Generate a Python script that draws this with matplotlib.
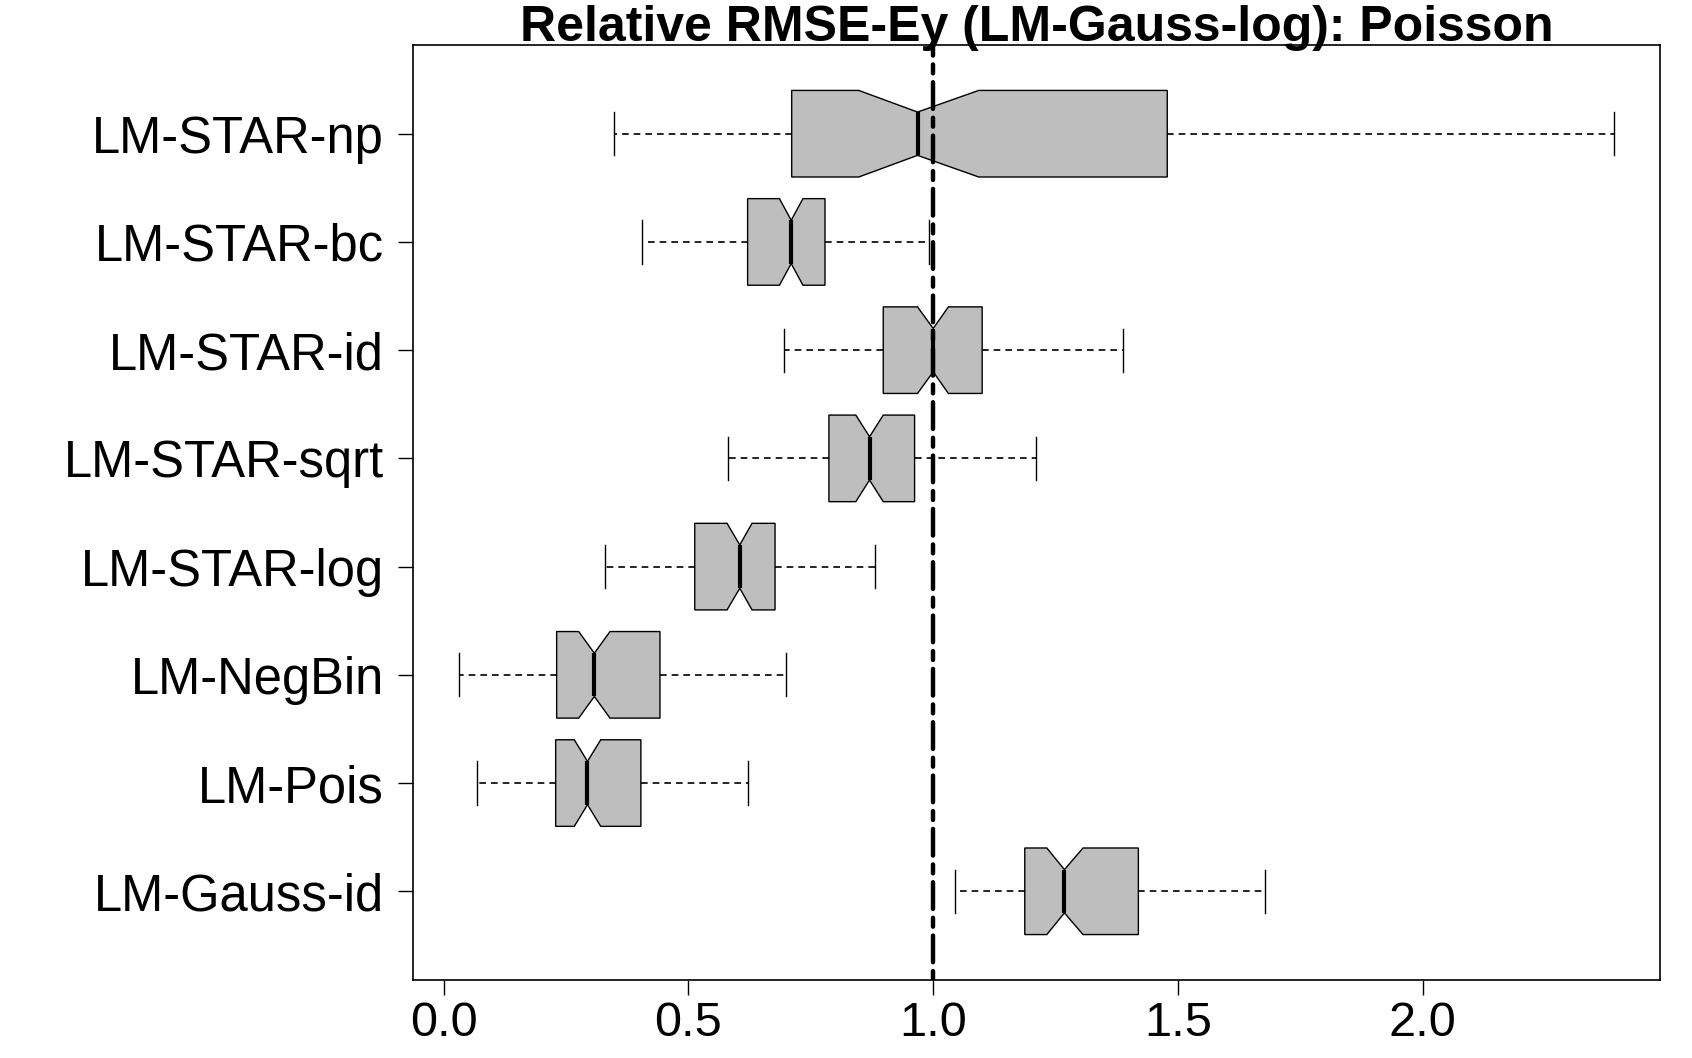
import matplotlib
matplotlib.use('Agg')
import matplotlib.pyplot as plt

plt.rcParams['font.family'] = ['Liberation Sans', 'DejaVu Sans']

# boxplot summaries (bottom to top)
models = ['LM-Gauss-id', 'LM-Pois', 'LM-NegBin', 'LM-STAR-log',
          'LM-STAR-sqrt', 'LM-STAR-id', 'LM-STAR-bc', 'LM-STAR-np']
whislo = [1.044, 0.068, 0.032, 0.330, 0.581, 0.696, 0.406, 0.348]
q1     = [1.187, 0.229, 0.231, 0.513, 0.787, 0.898, 0.621, 0.711]
cilo   = [1.232, 0.267, 0.276, 0.579, 0.842, 0.968, 0.686, 0.848]
med    = [1.268, 0.294, 0.308, 0.605, 0.870, 1.000, 0.710, 0.968]
cihi   = [1.306, 0.321, 0.340, 0.630, 0.898, 1.031, 0.734, 1.093]
q3     = [1.419, 0.403, 0.442, 0.677, 0.962, 1.100, 0.779, 1.478]
whishi = [1.677, 0.621, 0.699, 0.882, 1.209, 1.388, 0.992, 2.390]
ref_value = 1.0
title = 'Relative RMSE-Ey (LM-Gauss-log): Poisson'


stats = []
for i, name in enumerate(models):
    stats.append(dict(label=name, whislo=whislo[i], q1=q1[i], cilo=cilo[i],
                      med=med[i], cihi=cihi[i], q3=q3[i], whishi=whishi[i]))

fig, ax = plt.subplots(figsize=(16.92, 10.58), dpi=100)
fig.subplots_adjust(left=0.2441, right=0.9811, bottom=0.0737, top=0.9575)

positions = list(range(1, len(models) + 1))
ax.bxp(stats, positions=positions, widths=0.8, orientation='horizontal',
       patch_artist=True, shownotches=True, showfliers=False,
       boxprops=dict(facecolor='#BEBEBE', edgecolor='black', linewidth=1.0),
       whiskerprops=dict(color='black', linewidth=1.2, linestyle=(0, (4, 3))),
       capprops=dict(color='black', linewidth=1.0),
       medianprops=dict(color='black', linewidth=3.0, solid_capstyle='butt'))

# reference line, R style twodash
ax.axvline(ref_value, color='black', linewidth=3.2, linestyle=(0, (2, 2, 6, 2)),
           dash_capstyle='round', zorder=5)

# R-like axis padding (4%)
lo, hi = min(whislo), max(whishi)
pad = 0.04 * (hi - lo)
ax.set_xlim(lo - pad, hi + pad)
n = len(models)
ax.set_ylim(0.5 - 0.04 * n, n + 0.5 + 0.04 * n)

ax.set_xticks([0.0, 0.5, 1.0, 1.5, 2.0])
ax.set_xticklabels(['0.0', '0.5', '1.0', '1.5', '2.0'])
ax.set_yticks(positions)
ax.set_yticklabels(models)
ax.tick_params(axis='both', length=10.8, width=1.0, labelsize=35)
ax.tick_params(axis='y', pad=10, labelsize=36.5)
ax.tick_params(axis='x', pad=4)
for sp in ax.spines.values():
    sp.set_linewidth(1.2)

# title baseline sits just above the box, like R's main at line 0
ax.text(0.5, 1.0045, title, transform=ax.transAxes, ha='center', va='baseline',
        fontsize=36, fontweight='bold')

fig.savefig('out.png', dpi=100)
plt.close()
